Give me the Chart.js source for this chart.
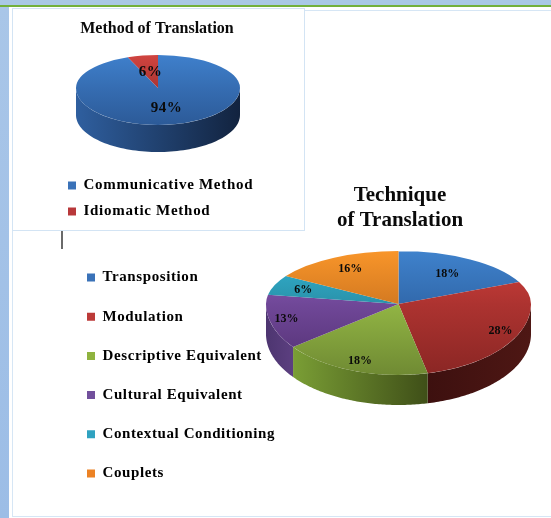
<!DOCTYPE html>
<html><head><meta charset="utf-8">
<script src="https://cdn.jsdelivr.net/npm/chart.js@4"></script>
<style>
html,body{margin:0;padding:0;background:#fff;width:551px;height:518px;overflow:hidden}
.d{position:absolute;box-sizing:border-box}
canvas{position:absolute;left:0;top:0;filter:blur(0.45px)}
</style></head><body>
<div class="d" style="left:0;top:0;width:551px;height:5px;background:#a9c8e6"></div>
<div class="d" style="left:0;top:5px;width:551px;height:2px;background:#72b03c"></div>
<div class="d" style="left:0;top:7px;width:9px;height:511px;background:linear-gradient(#a9c6e8,#9cbde6)"></div>
<div class="d" style="left:12px;top:10px;width:540px;height:507px;border:1px solid #d6e6f5"></div>
<div class="d" style="left:12px;top:8px;width:293px;height:223px;border:1px solid #d3e4f4;background:#fff"></div>
<div class="d" style="left:61px;top:231px;width:2px;height:18px;background:#6a6a6a"></div>
<canvas id="c1" width="551" height="518"></canvas>
<canvas id="c2" width="551" height="518"></canvas>
<script>
const methodTitle = "Method of Translation";
const methodLabels = ["Communicative Method", "Idiomatic Method"];
const methodValues = [94, 6];
const methodColors = ["#3a72b8", "#b8383a"];

const techniqueTitle = ["Technique", "of Translation"];
const techniqueLabels = ["Transposition", "Modulation", "Descriptive Equivalent", "Cultural Equivalent", "Contextual Conditioning", "Couplets"];
const techniqueValues = [18, 28, 18, 13, 6, 16];
const techniqueColors = ["#3a72b8", "#bc3a38", "#8fb33f", "#72509c", "#2fa2c0", "#ec8224"];

const SERIF = "'Liberation Serif','Times New Roman',serif";

const pie3d = {
  id: 'pie3d',
  afterLayout(chart, args, o) {
    const t = chart.titleBlock;
    t.left = o.titleX - 200; t.right = o.titleX + 200; t.top = o.titleY; t.bottom = o.titleY + 60;
    const l = chart.legend, p = o.legendPad;
    l.left = o.legendX - p; l.top = o.legendY - p; l.right = 551; l.bottom = 518;
    if (!l.spacedDraw) {
      const base = l.draw;
      l.spacedDraw = true;
      l.draw = function (a) {
        chart.ctx.letterSpacing = o.spacing;
        base.call(this, a);
        chart.ctx.letterSpacing = '0px';
      };
    }
  },
  beforeDatasetsDraw(chart, args, o) {
    const ctx = chart.ctx, arcs = chart.getDatasetMeta(0).data;
    const {cx, cy, ryTop, ryBottom, depth} = o;
    // side wall
    arcs.forEach((a, i) => {
      const lo = Math.max(a.startAngle, 0), hi = Math.min(a.endAngle, Math.PI);
      if (hi <= lo) return;
      const r = a.outerRadius, n = 80;
      const xa = cx + r * Math.cos(hi), xb = cx + r * Math.cos(lo);
      const g = ctx.createLinearGradient(xa, 0, xb, 0);
      g.addColorStop(0, o.wall[i][0]); g.addColorStop(1, o.wall[i][1]);
      ctx.beginPath();
      for (let k = 0; k <= n; k++) {
        const t = lo + (hi - lo) * k / n;
        ctx.lineTo(cx + r * Math.cos(t), cy + ryBottom * Math.sin(t));
      }
      for (let k = n; k >= 0; k--) {
        const t = lo + (hi - lo) * k / n;
        ctx.lineTo(cx + r * Math.cos(t), cy + ryBottom * Math.sin(t) + depth);
      }
      ctx.closePath(); ctx.fillStyle = g; ctx.fill();
    });
    // top face, two halves for the perspective
    [[0, cy, ryTop], [cy, 518 - cy, ryBottom]].forEach(([y0, h, ry]) => {
      ctx.save();
      ctx.beginPath(); ctx.rect(0, y0, 551, h); ctx.clip();
      ctx.translate(cx, cy);
      ctx.scale(1, ry / arcs[0].outerRadius);
      ctx.translate(-arcs[0].x, -arcs[0].y);
      arcs.forEach(a => a.draw(ctx));
      ctx.restore();
    });
    // value labels
    ctx.save();
    ctx.font = o.labelFont; ctx.fillStyle = '#0a0a0a';
    ctx.letterSpacing = o.labelSpacing;
    ctx.textAlign = 'center'; ctx.textBaseline = 'middle';
    arcs.forEach((a, i) => {
      const m = (a.startAngle + a.endAngle) / 2, f = o.labelFrac[i] * a.outerRadius;
      const s = Math.sin(m);
      ctx.fillText(o.values[i] + '%', cx + f * Math.cos(m), cy + f * s * (s > 0 ? ryBottom : ryTop) / a.outerRadius);
    });
    ctx.restore();
    return false;
  }
};

function faceFill(stops) {
  return c => {
    const area = c.chart.chartArea;
    if (!area) return stops[c.dataIndex][0];
    const my = (area.top + area.bottom) / 2, r = c.chart.options.radius;
    const g = c.chart.ctx.createLinearGradient(0, my - r, 0, my + r);
    g.addColorStop(0, stops[c.dataIndex][0]); g.addColorStop(1, stops[c.dataIndex][1]);
    return g;
  };
}

function makePie(id, title, titleFont, labels, values, colors, face, cfg, legendFont, legendPadding) {
  new Chart(document.getElementById(id), {
    type: 'pie',
    data: { labels, datasets: [{ data: values, backgroundColor: faceFill(face), borderWidth: 0 }] },
    options: {
      responsive: false, animation: false, radius: cfg.rx,
      events: [],
      layout: { padding: 0 },
      plugins: {
        tooltip: { enabled: false },
        title: { display: true, text: title, color: '#0a0a0a', font: titleFont, padding: 0 },
        legend: {
          display: true, position: 'left', align: 'start',
          labels: {
            boxWidth: 8, boxHeight: 8, padding: legendPadding, color: '#111', font: legendFont,
            generateLabels: () => labels.map((t, i) => ({ text: t, fillStyle: colors[i], strokeStyle: colors[i], lineWidth: 0, index: i }))
          }
        },
        pie3d: { ...cfg, values, legendPad: legendPadding }
      }
    },
    plugins: [pie3d]
  });
}

makePie('c1', methodTitle, { family: SERIF, size: 16, weight: 'bold', lineHeight: 1.2 },
  methodLabels, methodValues, methodColors,
  [["#3f80cc", "#2c5a98"], ["#d04440", "#8a2624"]],
  { cx: 158, cy: 88, rx: 82, ryTop: 33, ryBottom: 37, depth: 27,
    wall: [["#2f5f9f", "#12233f"], ["#5a1a18", "#5a1a18"]],
    labelFrac: [0.55, 0.48], labelFont: "bold 15px " + SERIF, labelSpacing: '0.5px',
    titleX: 157, titleY: 19, legendX: 68, legendY: 178, spacing: '0.72px' },
  { family: SERIF, size: 15, weight: 'bold' }, 11);

makePie('c2', techniqueTitle, { family: SERIF, size: 21, weight: 'bold', lineHeight: 1.2 },
  techniqueLabels, techniqueValues, techniqueColors,
  [["#3f82cc", "#24508c"], ["#d0403c", "#8a2624"], ["#b5e055", "#6f8a33"],
   ["#9060c0", "#502f70"], ["#33b4d4", "#207080"], ["#f8952a", "#b05f18"]],
  { cx: 398.5, cy: 304, rx: 132.5, ryTop: 53, ryBottom: 71, depth: 30,
    wall: [["#2a4a78", "#1c3355"], ["#3d100f", "#4e1714"], ["#7a9e35", "#3f4f18"],
           ["#4d3570", "#5c3f80"], ["#1f6a80", "#1f6a80"], ["#a05a18", "#a05a18"]],
    labelFrac: [0.68, 0.86, 0.85, 0.87, 0.77, 0.75], labelFont: "bold 12px " + SERIF, labelSpacing: '0px',
    titleX: 400, titleY: 183, legendX: 87, legendY: 270, spacing: '0.6px' },
  { family: SERIF, size: 15, weight: 'bold' }, 24.2);
</script>
</body></html>
